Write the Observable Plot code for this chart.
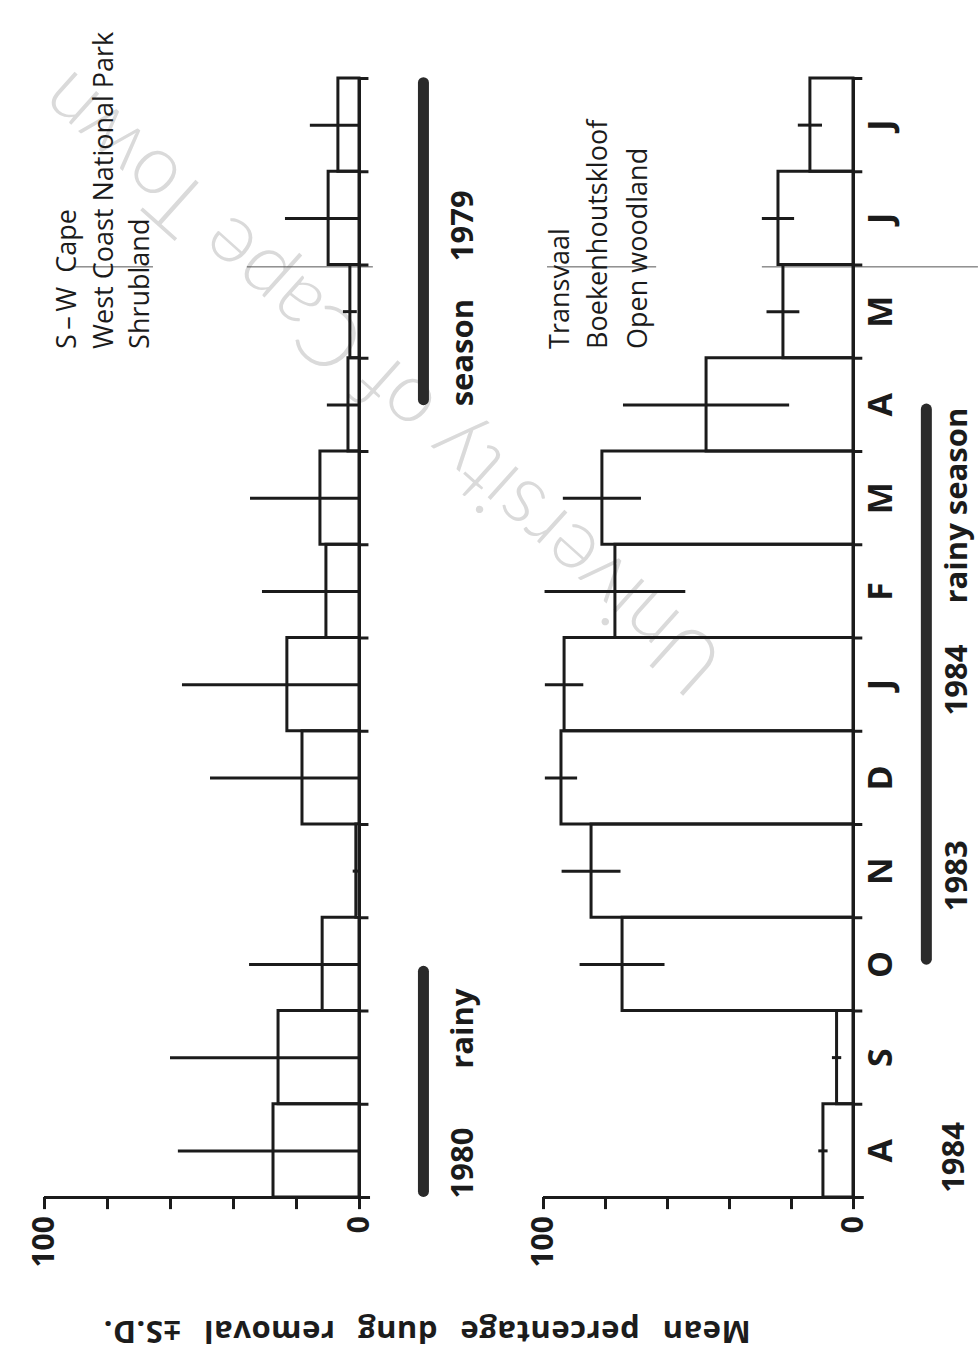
<!DOCTYPE html>
<html><head><meta charset="utf-8">
<script src="https://cdn.jsdelivr.net/npm/d3@7"></script>
<script src="https://cdn.jsdelivr.net/npm/@observablehq/plot@0.6"></script>
<style>
body{margin:0;background:#fff;}
#page{position:relative;width:980px;height:1355px;overflow:hidden;font-family:"Open Sans",Lato,sans-serif;background:#fff;}
#wm{position:absolute;left:378px;top:386px;transform:translate(-50%,-50%) rotate(221.8deg);font-family:Lato,sans-serif;font-size:84px;font-weight:300;color:#dadada;white-space:nowrap;line-height:1;}
.panel{position:absolute;top:0;}
#title{position:absolute;left:427px;top:1333px;transform:translate(-50%,-50%) rotate(180deg);font-size:31px;font-weight:bold;white-space:nowrap;word-spacing:14px;letter-spacing:0.5px;color:#1c1c1c;}
</style></head>
<body><div id="page"><div id="wm">University of Cape Town</div><div id="title">Mean percentage dung removal ±S.D.</div></div>
<script>
// Months, bottom (Aug) to top (Jul)
const months = ["A","S","O","N","D","J","F","M","A","M","J","J"];
const valueTicks = [0, 20, 40, 60, 80, 100];
const valueTickLabels = [100, 0];

// S-W Cape, West Coast National Park, shrubland
const capeMean = [27.3, 25.7, 11.7, 1.0, 18.1, 22.9, 10.5, 12.4, 3.5, 2.9, 9.8, 6.7];
const capeSD   = [30.2, 34.3, 23.2, 1.0, 29.2, 33.3, 20.3, 22.2, 6.7, 2.2, 13.7, 8.9];
const capeSite = ["S\u2009–\u2009W  Cape", "West Coast National Park", "Shrubland"];
const capeRainy = [[0.06, 2.42], [8.55, 11.95]];
const capeRainyText = [["1980", 0.37], ["rainy", 1.81], ["season", 9.06], ["1979", 10.42]];

// Transvaal, Boekenhoutskloof, open woodland
const tvMean = [9.7, 5.3, 74.5, 84.5, 94.2, 93.2, 76.8, 81.0, 47.4, 22.6, 24.2, 13.9];
const tvSD   = [1.5, 1.5, 13.7, 9.5, 5.2, 6.2, 22.7, 12.6, 26.8, 5.3, 5.2, 3.9];
const tvSite = ["Transvaal", "Boekenhoutskloof", "Open woodland"];
const tvRainy = [[2.55, 8.45]];
const tvRainyText = [["1983", 3.45], ["1984", 5.55], ["rainy season", 7.42]];
const tvYearText = [["1984", 0.43]];

const ink = "#1b1b1b";
const font = "'Open Sans', Lato, sans-serif";

function panel(o) {
  const idx = d3.range(12);
  const marks = [
    Plot.ruleY(o.cut, {y: 9.98, x1: d => d[0], x2: d => d[1], stroke: "#555", strokeWidth: 1}),
    Plot.rect(idx, {x1: 0, x2: i => o.mean[i], y1: i => i, y2: i => i + 1, fill: "none", stroke: ink, strokeWidth: 3}),
    Plot.ruleY(idx, {y: i => i + 0.5, x1: i => Math.max(0, o.mean[i] - o.sd[i]), x2: i => o.mean[i] + o.sd[i], stroke: ink, strokeWidth: 3}),
    Plot.ruleX([0], {y1: -0.13, y2: 12, stroke: ink, strokeWidth: 3}),
    Plot.ruleY(d3.range(13), {y: d => d, x1: 0, x2: -3, stroke: ink, strokeWidth: 3}),
    Plot.ruleY([0], {x1: 100, x2: -3.5, stroke: ink, strokeWidth: 3}),
    Plot.ruleX(valueTicks, {x: d => d, y1: 0, y2: -0.13, stroke: ink, strokeWidth: 3}),
    Plot.text(valueTickLabels, {x: d => d, y: -0.2, text: d => String(d), rotate: -90, textAnchor: "end", fontSize: 30, fontWeight: "bold", fontFamily: font, fill: ink}),
    Plot.ruleX(o.rainy, {x: o.rainyX, y1: d => d[0], y2: d => d[1], stroke: "#2a2a2a", strokeWidth: 11, strokeLinecap: "round"}),
    Plot.text(o.rainyText, {x: o.rainyTextX, y: d => d[1], text: d => d[0], rotate: -90, fontSize: 31, fontWeight: "bold", fontFamily: font, fill: ink, letterSpacing: 1.5}),
    Plot.text(o.site, {x: (d, i) => o.siteX[i], y: 9.1, text: d => d, rotate: -90, textAnchor: "start", fontSize: 27, fontFamily: font, fill: ink, letterSpacing: 0.6})
  ];
  if (o.months) marks.push(Plot.text(o.months, {x: -9.0, y: (d, i) => i + 0.5, text: d => d, rotate: -90, fontSize: 34, fontWeight: "bold", fontFamily: font, fill: ink}));
  if (o.yearText) marks.push(Plot.text(o.yearText, {x: o.yearTextX, y: d => d[1], text: d => d[0], rotate: -90, fontSize: 31, fontWeight: "bold", fontFamily: font, fill: ink, letterSpacing: 1.5}));
  const svg = Plot.plot({
    width: o.width, height: 1290,
    marginLeft: o.mLeft, marginRight: o.mRight, marginTop: 78, marginBottom: 93,
    x: {domain: [100, 0], axis: null},
    y: {domain: [0, 12], axis: null},
    style: "background: transparent; overflow: visible;",
    marks
  });
  svg.classList.add("panel");
  svg.style.left = o.left + "px";
  document.getElementById("page").appendChild(svg);
}

panel({mean: capeMean, sd: capeSD, rainy: capeRainy, rainyX: -20.3, rainyText: capeRainyText, rainyTextX: -32.9,
  site: capeSite, siteX: [92.7, 81.0, 69.5], cut: [[90.8, 65.4], [35.6, -4.4]],
  left: 0, width: 490, mLeft: 44, mRight: 131});
panel({mean: tvMean, sd: tvSD, rainy: tvRainy, rainyX: -23.5, rainyText: tvRainyText, rainyTextX: -33.5,
  yearText: tvYearText, yearTextX: -32.3, months,
  site: tvSite, siteX: [94.5, 82.3, 69.4], cut: [[98.7, 63.5], [29.4, -40.3]],
  left: 490, width: 490, mLeft: 53, mRight: 127});
</script>
</body></html>
